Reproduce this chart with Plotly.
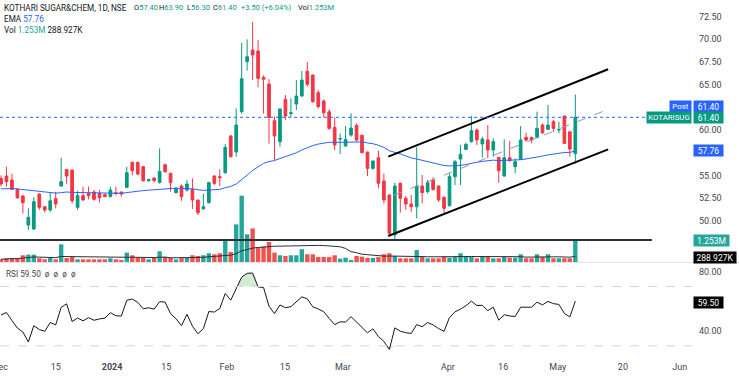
import plotly.graph_objects as go

# ---------------- data ----------------
opens = [54.67, 54.93, 54.49, 53.46, 52.73, 49.53, 49.09, 52.95, 51.55, 51.19,
         52.43, 53.83, 55.66, 55.59, 51.48, 52.77, 53.02, 53.17, 53.02, 52.88,
         52.66, 53.10, 53.17, 53.68, 56.44, 56.44, 55.96, 54.42, 54.71, 54.23,
         56.18, 55.22, 53.10, 53.83, 53.39, 53.46, 52.29, 51.33, 52.00, 54.93,
         54.86, 55.30, 59.34, 57.57, 62.02, 67.52, 68.80, 68.70, 65.80, 65.06,
         61.02, 58.71, 63.37, 61.80, 62.86, 63.74, 66.46, 66.05, 64.11, 63.19,
         62.00, 60.29, 59.00, 58.24, 59.45, 60.51, 59.41, 57.57, 55.78, 56.95,
         54.38, 52.84, 48.44, 54.13, 52.48, 51.85, 51.56, 53.83, 53.21, 54.50,
         53.83, 52.59, 51.67, 54.86, 56.80, 57.87, 58.72, 60.00, 58.46, 58.90,
         57.80, 56.99, 54.93, 56.95, 55.96, 56.77, 59.19, 59.19, 59.19, 60.55,
         60.07, 60.92, 60.00, 61.54, 59.80, 57.40]
highs = [55.00, 55.96, 55.20, 53.60, 52.85, 51.37, 52.60, 53.00, 51.60, 53.10,
         53.20, 56.95, 55.70, 55.60, 53.30, 53.76, 53.76, 53.40, 53.40, 53.00,
         53.76, 53.76, 53.20, 55.96, 56.50, 56.50, 56.03, 54.60, 54.80, 57.98,
         56.30, 55.30, 53.70, 54.00, 54.50, 54.67, 52.30, 53.00, 54.30, 55.00,
         55.66, 58.46, 59.45, 62.38, 69.60, 69.98, 71.90, 69.90, 66.00, 65.58,
         61.50, 62.40, 63.85, 63.50, 65.50, 66.50, 67.50, 66.10, 64.40, 63.37,
         62.30, 61.39, 59.63, 60.44, 61.83, 60.73, 59.50, 57.60, 56.60, 57.72,
         55.20, 52.90, 54.20, 54.20, 52.73, 52.84, 58.09, 55.04, 54.50, 54.80,
         53.90, 52.70, 55.23, 56.70, 58.35, 58.60, 61.54, 60.18, 59.26, 60.55,
         59.08, 57.00, 58.97, 58.79, 56.88, 60.44, 59.70, 59.26, 62.02, 60.73,
         62.75, 61.10, 60.92, 61.54, 59.80, 63.90]
lows = [53.80, 53.76, 53.40, 52.40, 50.80, 48.98, 49.00, 51.20, 50.90, 51.00,
        51.37, 53.76, 54.05, 51.90, 51.20, 52.20, 52.36, 52.20, 52.00, 52.60,
        52.58, 52.80, 52.66, 53.60, 55.00, 55.00, 54.30, 54.30, 54.23, 54.10,
        55.30, 53.20, 53.00, 52.20, 53.20, 51.30, 50.64, 51.20, 51.90, 53.94,
        53.83, 55.20, 56.98, 57.06, 61.80, 66.53, 65.50, 64.70, 61.80, 58.50,
        56.70, 58.16, 61.10, 61.40, 62.20, 63.67, 64.77, 63.00, 62.38, 61.39,
        60.00, 57.80, 57.35, 58.16, 59.26, 58.70, 57.43, 54.93, 55.60, 53.57,
        51.90, 48.25, 47.89, 50.90, 51.20, 51.00, 50.27, 51.93, 53.00, 53.32,
        52.10, 50.80, 51.56, 53.94, 53.94, 57.80, 58.60, 58.35, 56.95, 56.88,
        57.06, 54.20, 54.86, 56.50, 55.23, 56.70, 58.72, 58.53, 59.08, 59.56,
        60.00, 59.80, 59.63, 58.46, 57.06, 56.30]
closes = [54.05, 54.31, 53.46, 52.54, 52.00, 50.38, 52.10, 51.48, 51.19, 52.20,
          51.85, 54.31, 54.93, 52.21, 52.77, 52.29, 52.77, 52.36, 52.54, 52.66,
          53.39, 53.00, 52.95, 55.30, 55.52, 55.15, 54.42, 54.56, 54.42, 55.45,
          55.41, 54.20, 53.57, 52.66, 54.05, 52.29, 50.89, 51.55, 54.20, 54.12,
          54.75, 58.09, 57.06, 60.55, 65.65, 68.07, 68.26, 65.69, 65.58, 61.39,
          59.34, 62.31, 61.54, 61.90, 63.74, 65.50, 65.03, 63.12, 62.57, 61.90,
          60.18, 58.35, 59.05, 58.97, 60.22, 58.90, 57.50, 55.77, 56.59, 54.13,
          52.29, 48.62, 53.83, 52.48, 51.85, 51.56, 53.83, 53.10, 54.20, 53.46,
          52.29, 51.37, 54.86, 56.51, 57.32, 58.42, 59.93, 58.90, 59.00, 57.80,
          58.72, 55.52, 56.95, 56.62, 56.51, 58.90, 58.90, 58.90, 60.18, 59.70,
          60.55, 60.18, 60.05, 58.53, 57.90, 61.40]
# volume in millions
volumes = [0.16, 0.22, 0.22, 0.22, 0.40, 0.44, 0.44, 0.22, 0.16, 0.24,
           0.16, 1.05, 0.24, 0.30, 0.16, 0.16, 0.16, 0.16, 0.16, 0.16,
           0.22, 0.16, 0.10, 0.56, 0.40, 0.26, 0.24, 0.16, 0.24, 0.64,
           0.30, 0.24, 0.16, 0.24, 0.24, 0.40, 0.36, 0.40, 0.52, 0.46,
           0.52, 1.25, 0.60, 2.24, 3.95, 1.65, 2.00, 0.86, 0.92, 1.19,
           0.56, 0.40, 0.36, 0.40, 0.40, 0.76, 0.46, 0.46, 0.30, 0.30,
           0.30, 0.40, 0.20, 0.26, 0.10, 0.36, 0.32, 0.24, 0.24, 0.30,
           0.46, 0.52, 0.36, 0.22, 0.22, 0.22, 0.71, 0.32, 0.22, 0.22,
           0.22, 0.32, 0.26, 0.30, 0.52, 0.36, 0.30, 0.22, 0.30, 0.30,
           0.22, 0.22, 0.30, 0.26, 0.26, 0.46, 0.22, 0.22, 0.46, 0.30,
           0.46, 0.22, 0.22, 0.22, 0.22, 1.253]

bar_index = list(range(1, len(closes) + 1))
tick_pos = [0.85, 11, 21.3, 31.2, 42.3, 52.9, 63.5, 82.7, 92.8, 102.8, 114.7, 125.1]
tick_text = ["Dec", "15", "<b>2024</b>", "15", "Feb", "15", "Mar", "Apr", "16", "May", "20", "Jun"]
# price levels whose labels are visible (57.50 / 62.50 are hidden behind the value tags)
price_ticks = [50.0, 52.5, 55.0, 60.0, 65.0, 67.5, 70.0, 72.5]
rsi_ticks = [40, 80]

# drawings (bar index, price)
channel_upper = ([71.8, 112.0], [57.06, 66.69])
channel_lower = ([71.8, 112.0], [48.33, 57.87])
channel_mid = ([72.8, 112.0], [52.80, 62.28])
support_level = 47.89
support_end = 120.0

header_text = "KOTHARI SUGAR&amp;CHEM, 1D, NSE"
ema_last_txt = "57.76"
vol_last_txt = "1.253M"
vol_ma_txt = "288.927K"
rsi_last_txt = "59.50"
ema_len, rsi_len, vol_ma_len = 50, 14, 20

GREEN = "#089981"
RED = "#f23645"
BLUE = "#2962ff"
TXT = "#131722"

# ---------------- indicators ----------------
def ema(vals, n, seed):
    a = 2.0 / (n + 1)
    out, e = [], seed
    for v in vals:
        e = e + a * (v - e)
        out.append(e)
    return out

def rsi(vals, n, g0, l0):
    ag, al = g0, l0
    out = [100 - 100 / (1 + ag / al)]
    for i in range(1, len(vals)):
        ch = vals[i] - vals[i - 1]
        ag = (ag * (n - 1) + max(ch, 0)) / n
        al = (al * (n - 1) + max(-ch, 0)) / n
        out.append(100 - 100 / (1 + ag / al))
    return out

def sma(vals, n):
    out = []
    for i in range(len(vals)):
        w = vals[max(0, i - n + 1):i + 1]
        out.append(sum(w) / len(w))
    return out

ema_line = ema(closes, ema_len, 53.5)
rsi_line = rsi(closes, rsi_len, 0.30, 0.29)
vol_ma = sma(volumes, vol_ma_len)
vol_colors = ["#26a69a" if c >= o else "#ef5350" for o, c in zip(opens, closes)]

# ---------------- figure ----------------
fig = go.Figure()
fig.add_trace(go.Bar(x=bar_index, y=volumes, marker=dict(color=vol_colors, line=dict(width=0)),
                     width=0.8, xaxis="x", yaxis="y", hoverinfo="skip"))
fig.add_trace(go.Scatter(x=bar_index, y=vol_ma, mode="lines", line=dict(color="#2a2e39", width=1),
                         xaxis="x", yaxis="y", hoverinfo="skip"))
fig.add_trace(go.Candlestick(x=bar_index, open=opens, high=highs, low=lows, close=closes,
                             increasing=dict(line=dict(color=GREEN, width=1), fillcolor=GREEN),
                             decreasing=dict(line=dict(color=RED, width=1), fillcolor=RED),
                             xaxis="x", yaxis="y2", hoverinfo="skip"))
fig.add_trace(go.Scatter(x=bar_index, y=ema_line, mode="lines", line=dict(color=BLUE, width=1),
                         xaxis="x", yaxis="y2", hoverinfo="skip"))
# RSI with overbought / oversold fills
fig.add_trace(go.Scatter(x=bar_index, y=[70] * len(bar_index), mode="lines", line=dict(width=0),
                         xaxis="x", yaxis="y3", hoverinfo="skip"))
fig.add_trace(go.Scatter(x=bar_index, y=[max(r, 70) for r in rsi_line], mode="lines", line=dict(width=0),
                         fill="tonexty", fillcolor="rgba(76,175,80,0.25)", xaxis="x", yaxis="y3", hoverinfo="skip"))
fig.add_trace(go.Scatter(x=bar_index, y=[30] * len(bar_index), mode="lines", line=dict(width=0),
                         xaxis="x", yaxis="y3", hoverinfo="skip"))
fig.add_trace(go.Scatter(x=bar_index, y=[min(r, 30) for r in rsi_line], mode="lines", line=dict(width=0),
                         fill="tonexty", fillcolor="rgba(242,54,69,0.2)", xaxis="x", yaxis="y3", hoverinfo="skip"))
fig.add_trace(go.Scatter(x=bar_index, y=rsi_line, mode="lines", line=dict(color="#131722", width=1),
                         xaxis="x", yaxis="y3", hoverinfo="skip"))

shapes = []
for (xs, ys), dash, col in [(channel_upper, "solid", "#000000"), (channel_lower, "solid", "#000000"),
                            (channel_mid, "dash", "#9598a1")]:
    shapes.append(dict(type="line", xref="x", yref="y2", x0=xs[0], x1=xs[1], y0=ys[0], y1=ys[1],
                       line=dict(color=col, width=2 if dash == "solid" else 1, dash=dash)))
shapes.append(dict(type="line", xref="x", yref="y2", x0=0.817, x1=support_end, y0=support_level, y1=support_level,
                   line=dict(color="#2a2e39", width=2)))
# last price dotted line
shapes.append(dict(type="line", xref="paper", yref="y2", x0=0, x1=0.935, y0=closes[-1], y1=closes[-1],
                   line=dict(color=BLUE, width=1, dash="dot")))
# RSI bands
for lvl in (70, 30):
    shapes.append(dict(type="line", xref="paper", yref="y3", x0=0, x1=1, y0=lvl, y1=lvl,
                       line=dict(color="#d1d4dc", width=1, dash="dash")))
# pane separator
shapes.append(dict(type="line", xref="paper", yref="paper", x0=0, x1=1.07, y0=0.2543, y1=0.2543,
                   line=dict(color="#e0e3eb", width=1)))

FONT = "Roboto, Noto Sans, sans-serif"
ann = []
def txt(x, y, t, col=TXT, size=8.2):
    ann.append(dict(xref="paper", yref="paper", x=x / 692, y=(352 - y) / 352, text=t, showarrow=False,
                    xanchor="left", yanchor="middle", font=dict(size=size, color=col, family=FONT)))

chg = closes[-1] - closes[-2]
pct = chg / closes[-2] * 100
VS = 7.5
txt(2, 7.5, header_text)
txt(132, 7.5, "O<span style='color:%s'>%.2f</span>" % (GREEN, opens[-1]), size=VS)
txt(157, 7.5, "H<span style='color:%s'>%.2f</span>" % (GREEN, highs[-1]), size=VS)
txt(184.5, 7.5, "L<span style='color:%s'>%.2f</span>" % (GREEN, lows[-1]), size=VS)
txt(211.5, 7.5, "C<span style='color:%s'>%.2f</span>" % (GREEN, closes[-1]), size=VS)
txt(238.5, 7.5, "<span style='color:%s'>%+.2f (%+.2f%%)</span>" % (GREEN, chg, pct), size=VS)
txt(296, 7.5, "Vol<span style='color:%s'>%s</span>" % (GREEN, vol_last_txt), size=VS)
txt(2, 19, "EMA <span style='color:%s'>%s</span>" % (BLUE, ema_last_txt))
txt(2, 30, "Vol <span style='color:#26a69a'>%s</span> %s" % (vol_last_txt, vol_ma_txt))
txt(4, 274, "RSI %s &nbsp;ø &nbsp;ø &nbsp;ø &nbsp;ø" % rsi_last_txt, col="#434651")

def axis_box(yref, y, t, bg, yshift=0, w=29):
    ann.append(dict(xref="paper", yref=yref, x=1, y=y, xshift=1, yshift=yshift, text=t, showarrow=False,
                    xanchor="left", yanchor="middle", bgcolor=bg, width=w, height=11, borderpad=0,
                    font=dict(size=8.5, color="white", family=FONT)))

def left_box(y, t, bg, yshift=0, w=44):
    ann.append(dict(xref="paper", yref="y2", x=1, y=y, xshift=0, yshift=yshift, text=t, showarrow=False,
                    xanchor="right", yanchor="middle", bgcolor=bg, width=w, height=11, borderpad=0,
                    font=dict(size=7.8, color="white", family=FONT)))

axis_box("y2", closes[-1], "%.2f" % closes[-1], BLUE, yshift=10.6)
left_box(closes[-1], "Post", BLUE, yshift=10.6, w=21)
axis_box("y2", closes[-1], "%.2f" % closes[-1], GREEN)
left_box(closes[-1], "KOTARISUG", GREEN, w=44)
axis_box("y2", 57.76, ema_last_txt, BLUE)
axis_box("y", volumes[-1], vol_last_txt, "#26a69a", w=35)
axis_box("y", 0.289, vol_ma_txt, "#000000", w=42)
axis_box("y3", 59.5, rsi_last_txt, "#000000")

fig.update_layout(
    width=739, height=376,
    margin=dict(l=0, r=47, t=0, b=24, autoexpand=False),
    paper_bgcolor="white", plot_bgcolor="white",
    showlegend=False,
    font=dict(family=FONT, size=9, color=TXT),
    xaxis=dict(range=[0.817, 127.33], anchor="y3", tickvals=tick_pos, ticktext=tick_text,
               showgrid=False, zeroline=False, showline=False, ticks="", ticklabelstandoff=8,
               ticklabeloverflow="allow", automargin=False,
               tickfont=dict(size=9, color="#434651"), rangeslider=dict(visible=False), fixedrange=True),
    yaxis=dict(domain=[0.2557, 1], range=[0, 15.6], visible=False, fixedrange=True, automargin=False),
    yaxis2=dict(overlaying="y", side="right", anchor="x", range=[45.463, 74.317],
                tickvals=price_ticks, ticktext=["%.2f" % v for v in price_ticks], automargin=False,
                showgrid=False, zeroline=False, showline=False, ticks="", ticklabelstandoff=6,
                tickfont=dict(size=9, color="#434651"), fixedrange=True),
    yaxis3=dict(domain=[0, 0.2528], side="right", anchor="x", range=[25.84, 85.85],
                tickvals=rsi_ticks, ticktext=["%.2f" % v for v in rsi_ticks], automargin=False,
                showgrid=False, zeroline=False, showline=False, ticks="", ticklabelstandoff=6,
                tickfont=dict(size=9, color="#434651"), fixedrange=True),
    shapes=shapes,
    annotations=ann,
)

fig.write_html("out.html", post_script="document.body.style.margin='0';", config={"displayModeBar": False})
